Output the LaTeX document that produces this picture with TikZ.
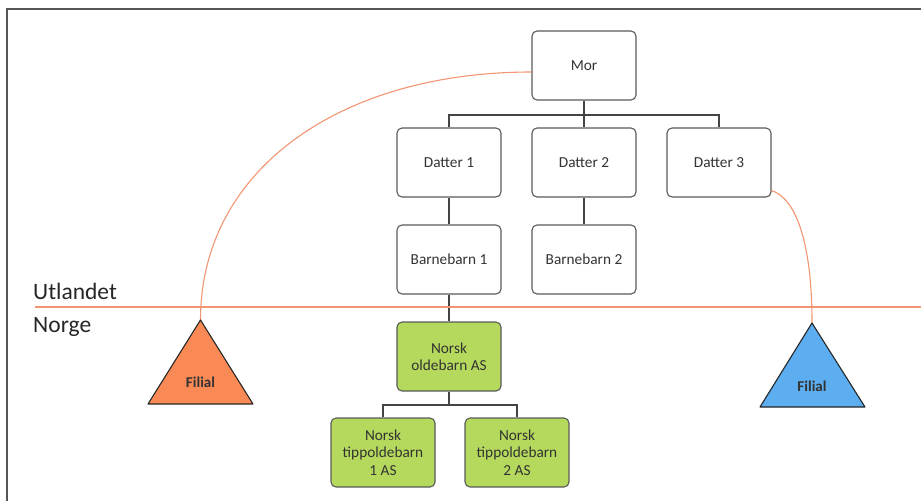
\documentclass[tikz,border=0pt]{standalone}
\usepackage{fontspec}
\setmainfont{Carlito}
\begin{document}
\begin{tikzpicture}[x=1pt,y=-1pt,
  box/.style={draw=boxgray, line width=1.1pt, rounded corners=5pt, fill=white,
    minimum width=104pt, minimum height=69pt, inner sep=2pt, align=center,
    text=txt, font=\fontsize{15.3}{17.5}\selectfont},
  greenbox/.style={box, fill=leaf},
  conn/.style={draw=lin, line width=1.1pt},
  orng/.style={draw=orl, line width=1.1pt},
  tri/.style={draw=black!85, line width=1.1pt, line join=round},
  filial/.style={font=\fontsize{15}{17}\selectfont\bfseries, text=txt, inner sep=0pt},
  region/.style={font=\fontsize{23.5}{26}\selectfont, text=black!85, anchor=west, inner sep=0pt}]
\definecolor{boxgray}{HTML}{5A5A5A}
\definecolor{lin}{HTML}{444444}
\definecolor{orl}{HTML}{F29572}
\definecolor{leaf}{HTML}{B5D95C}
\definecolor{txt}{HTML}{333333}
\definecolor{tril}{HTML}{F98A55}
\definecolor{trib}{HTML}{5CAEF0}
\definecolor{frame}{HTML}{555555}
\useasboundingbox (0,0) rectangle (921,501);
% frame
\draw[frame, line width=1.6pt] (7,501) -- (7,9) -- (921,9);
% boundary line
\coordinate (lineL) at (35,307);
\coordinate (lineR) at (921,307);
% nodes
\node[box] (mor) at (584,65.5) {Mor};
\node[box] (d1) at (449,162.5) {Datter 1};
\node[box] (d2) at (584,162.5) {Datter 2};
\node[box] (d3) at (719,162.5) {Datter 3};
\node[box] (b1) at (449,259.5) {Barnebarn 1};
\node[box] (b2) at (584,259.5) {Barnebarn 2};
\node[greenbox] (ob) at (449,356.5) {Norsk\\oldebarn AS};
\node[greenbox] (t1) at (383,452.5) {Norsk\\tippoldebarn\\1 AS};
\node[greenbox] (t2) at (517,452.5) {Norsk\\tippoldebarn\\2 AS};
% connectors
\coordinate (bus) at (584,115);
\draw[conn] (mor.south) -- (bus);
\draw[conn] (d1.north) |- (bus) -| (d3.north);
\draw[conn] (bus) -- (d2.north);
\draw[conn] (d1.south) -- (b1.north);
\draw[conn] (d2.south) -- (b2.north);
\draw[conn] (b1.south) -- (ob.north);
\coordinate (bus2) at (449,405);
\draw[conn] (ob.south) -- (bus2);
\draw[conn] (t1.north) |- (bus2) -| (t2.north);
% triangles
\coordinate (fl) at (200.5,320);
\coordinate (fr) at (812,323);
\draw[orng] ([yshift=-6.5pt]mor.west) .. controls (340,72) and (200.5,170) .. (fl);
\draw[orng] ([yshift=7pt]d3.south east) .. controls (795,198) and (812,240) .. (fr);
\draw[orng] (lineL) -- (lineR);
\draw[tri, fill=tril] (fl) -- (148,404) -- (253,404) -- cycle;
\draw[tri, fill=trib] (fr) -- (760,407) -- (865,407) -- cycle;
\node[filial] (filL) at (200.5,382) {Filial};
\node[filial] (filR) at (812,386) {Filial};
% region labels
\node[region] (utl) at (33,291) {Utlandet};
\node[region] (nor) at (33,327) {Norge};
\end{tikzpicture}
\end{document}
